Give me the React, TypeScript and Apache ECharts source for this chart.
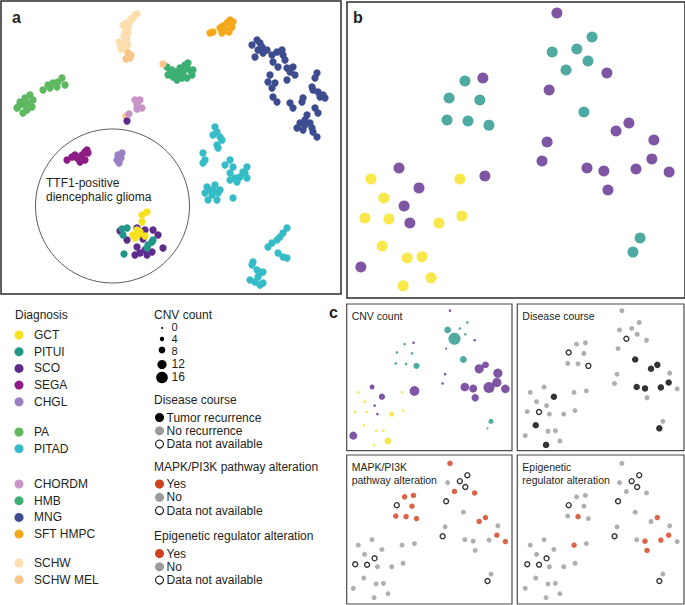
import React, { useEffect, useRef } from "react";
import * as echarts from "echarts";

const FONT = '"Liberation Sans", Arial, Helvetica, sans-serif';
const TEXT = "#231f20";

// ---------------- Diagnoses ----------------
const diagnosisGroups: string[][] = [
  ["GCT", "PITUI", "SCO", "SEGA", "CHGL"],
  ["PA", "PITAD"],
  ["CHORDM", "HMB", "MNG", "SFT HMPC"],
  ["SCHW", "SCHW MEL"],
];
const diagnosisColors: Record<string, string> = {
  GCT: "#F6E21E",
  PITUI: "#23968A",
  SCO: "#5E2C8D",
  SEGA: "#8C1C83",
  CHGL: "#9C80C2",
  PA: "#5DB860",
  PITAD: "#35BCC6",
  CHORDM: "#C995C8",
  HMB: "#3CAF72",
  MNG: "#3D4C8F",
  "SFT HMPC": "#F5A81C",
  SCHW: "#FDDEAE",
  "SCHW MEL": "#F8C68A",
};

// ---------------- Panel a: t-SNE of the reference cohort ----------------
const tsneSCHW = [[-3.6,13.2],[-3.4,13.3],[-3.8,12.9],[-4.0,12.8],[-4.1,12.5],[-4.4,12.4],[-4.8,12.2],[-4.3,11.9],[-4.6,11.5],[-4.3,11.4],[-4.7,11.1],[-4.4,10.8],[-5.2,10.5],[-5.1,10.3],[-4.6,10.4],[-4.3,10.2],[-5.0,9.8],[-4.5,9.7]];
const tsneSCHWMEL = [[-4.3,9.4],[-4.0,9.2],[-4.5,8.8],[-4.1,8.9],[-0.8,8.3],[-4.5,3.1]];
const tsneSFT = [[5.9,12.7],[6.2,12.5],[5.6,12.4],[5.2,12.1],[6.1,12.0],[4.9,11.9],[5.8,11.5],[5.1,11.4],[4.2,11.5],[3.9,11.4],[5.5,11.7]];
const tsneHMB = [[-0.4,8.0],[0.1,7.7],[-0.3,7.2],[0.2,7.0],[0.9,7.9],[1.2,7.4],[1.7,8.4],[1.9,7.7],[2.2,7.7],[1.6,6.9],[0.6,6.7],[1.1,6.9],[2.1,7.2],[0.5,7.5],[1.5,7.9],[-0.1,7.4],[1.4,8.2],[0.8,7.2]];
const tsnePA = [[-12.8,5.7],[-12.3,6.2],[-11.8,6.4],[-11.3,6.5],[-10.9,6.9],[-10.6,6.2],[-11.4,6.0],[-12.1,5.9],[-15.4,3.9],[-15.1,4.5],[-14.6,4.9],[-14.1,5.2],[-13.8,4.7],[-13.9,4.0],[-14.4,3.7],[-14.8,3.4],[-15.3,4.0],[-14.3,4.4],[-14.7,4.2]];
const tsneCHORDM = [[-3.6,4.7],[-3.1,4.7],[-3.4,4.2],[-2.9,3.9],[-3.4,3.8],[-4.2,3.3]];
const tsneMNG = [[8.1,10.2],[8.6,10.7],[8.9,10.4],[8.7,9.7],[8.4,9.0],[9.2,9.4],[9.6,9.7],[10.1,9.2],[10.6,9.5],[11.1,9.7],[11.2,9.2],[10.2,8.5],[10.7,8.0],[11.4,8.7],[11.6,7.9],[12.2,8.0],[12.4,7.2],[11.6,6.7],[9.9,7.2],[9.7,6.5],[10.1,5.9],[10.2,5.0],[10.6,4.5],[10.4,6.4],[11.9,4.4],[12.2,3.9],[13.1,4.5],[13.2,4.9],[14.2,5.7],[14.6,7.4],[14.4,6.9],[14.1,6.0],[15.2,5.2],[15.4,4.9],[14.9,5.0],[14.4,3.9],[14.7,3.4],[13.6,3.2],[12.9,2.4],[12.6,1.9],[13.2,1.7],[14.1,1.9],[14.6,1.0],[13.9,2.4],[13.4,2.7],[14.2,1.5],[9.1,10.0],[11.9,7.5],[14.7,5.5],[13.4,2.2]];
const tsnePITAD = [[4.4,2.0],[4.6,1.5],[4.2,1.2],[4.9,1.0],[5.1,0.7],[4.6,0.2],[4.7,-0.1],[3.2,-0.6],[3.4,-1.3],[3.2,-1.6],[5.9,-1.3],[6.2,-2.0],[5.9,-2.6],[7.6,-2.0],[7.4,-2.6],[6.9,-3.0],[6.4,-3.1],[5.9,-3.3],[7.6,-3.1],[6.6,-3.5],[3.6,-4.0],[4.2,-4.3],[3.4,-4.6],[4.1,-4.8],[4.7,-4.6],[3.7,-5.3],[4.6,-5.3],[4.9,-4.3],[6.2,-5.1],[7.2,-2.5],[3.9,-4.3],[4.4,-3.8],[5.4,-1.8],[11.6,-8.1],[11.2,-8.6],[10.9,-9.0],[10.6,-9.3],[10.1,-9.6],[9.7,-10.0],[10.7,-10.6],[11.2,-11.0],[11.6,-11.1],[8.2,-11.5],[8.1,-11.8],[8.6,-12.3],[8.9,-12.6],[9.2,-12.5],[7.9,-13.3],[8.4,-13.5],[8.9,-13.8],[9.2,-13.6],[8.7,-13.0]];
const tsneSEGA = [[-10.4,-1.3],[-9.9,-1.0],[-9.4,-1.1],[-8.9,-0.8],[-8.6,-0.5],[-8.3,-0.6],[-9.1,-1.5],[-8.6,-1.3],[-8.4,-0.3],[-9.6,-0.8]];
const tsneCHGL = [[-5.4,-1.3],[-5.3,-0.8],[-4.9,-0.6],[-5.0,-1.1],[-5.2,-1.6]];
const tsnePITUI = [[-4.9,-8.2],[-4.4,-8.1],[-4.8,-8.8],[-1.9,-9.5],[-2.3,-9.8],[-1.8,-9.3],[-2.4,-10.1],[-4.7,-10.7]];
const tsneSCO = [[-5.1,-8.4],[-3.4,-8.1],[-2.6,-8.3],[-1.8,-8.3],[-1.3,-8.8],[-2.8,-9.2],[-4.4,-9.3],[-3.4,-10.0],[-3.6,-10.8],[-3.1,-10.6],[-2.6,-10.3],[-2.4,-10.8],[-1.9,-10.5],[-0.8,-10.1],[-4.4,2.6]];
const tsneGCT = [[-2.4,-6.5],[-2.9,-6.8],[-2.9,-7.5],[-3.4,-8.3],[-3.1,-8.5],[-3.8,-8.8],[-3.6,-9.1],[-3.3,-8.8],[-2.6,-8.9]];

const ttf1CircleCenter = [-5.85, -5.9];
const ttf1Label = ["TTF1-positive", "diencephalic glioma"];

// ---------------- Panels b & c: study cohort ----------------
const sampleDiagnosis = ["SCO","PITUI","PITUI","PITUI","PITUI","PITUI","SCO","PITUI","SCO","SCO","PITUI","PITUI","PITUI","PITUI","PITUI","PITUI","SCO","SCO","SCO","SCO","SCO","SCO","SCO","SCO","SCO","SCO","SCO","SCO","GCT","GCT","SCO","SCO","GCT","SCO","GCT","GCT","SCO","GCT","GCT","GCT","GCT","GCT","GCT","SCO","GCT","PITUI","PITUI"];
const umap1 = [62.1,72.5,60.7,68.0,71.3,64.8,76.9,34.9,40.2,59.8,30.2,39.3,70.1,29.6,35.8,42.0,83.4,79.6,59.2,90.8,57.7,71.0,76.0,85.5,90.2,95.3,77.2,15.4,7.1,33.4,40.8,21.3,10.9,16.9,5.3,12.4,18.6,27.2,34.0,10.4,17.8,22.2,24.9,4.1,16.6,86.7,84.6];
const umap2 = [96.3,88.2,83.1,84.1,80.1,77.0,76.0,73.3,74.3,70.3,67.6,66.9,62.8,60.1,59.8,58.4,59.1,56.4,52.7,53.4,46.3,43.9,42.9,43.6,47.0,42.6,36.5,43.9,40.2,40.2,41.2,37.2,33.8,31.1,27.0,26.7,25.3,25.3,27.7,17.6,13.5,13.9,6.8,10.5,4.1,20.3,15.5];
const cnvCount = [1,1,8,1,1,17,1,1,1,0,1,1,8,1,1,7,8,12,1,12,1,11,10,15,12,11,9,5,1,1,13,7,1,1,1,1,1,5,1,1,1,1,8,10,1,5,0];
const diseaseCourse = ["N","N","N","N","N","NA","N","N","N","N","NA","N","R","N","N","NA","R","R","N","N","N","R","R","R","R","N","N","N","N","N","N","R","N","N","N","NA","N","N","N","R","N","N","N","N","R","N","R"];
const mapkAlteration = ["Y","NA","N","NA","NA","Y","Y","Y","Y","NA","NA","Y","N","Y","Y","Y","Y","Y","N","N","NA","N","N","N","Y","Y","N","N","N","N","N","N","N","NA","NA","NA","N","N","N","N","N","N","N","N","N","N","NA"];
const epigeneticAlteration = ["N","NA","N","NA","NA","N","N","N","N","NA","NA","N","N","N","Y","N","Y","N","N","N","NA","N","Y","Y","Y","N","Y","N","N","Y","N","N","N","NA","NA","NA","N","N","N","N","N","N","N","N","N","N","NA"];

const cnvLegendValues = [0, 4, 8, 12, 16];
const courseCodes = ["R", "N", "NA"];
const courseLabels = ["Tumor recurrence", "No recurrence", "Data not available"];
const alterationCodes = ["Y", "N", "NA"];
const alterationLabels = ["Yes", "No", "Data not available"];
const subpanelTitles = [["CNV count"], ["Disease course"], ["MAPK/PI3K", "pathway alteration"], ["Epigenetic", "regulator alteration"]];

// ---------------- styles ----------------
const RED = "#D23F1C";
const GRAY = "#9B9B9B";
const BLACK = "#000000";
const cnvSize = (v: number) => 2 + 0.6 * v;

const statusStyle: Record<string, any> = {
  R: { itemStyle: { color: BLACK }, symbolSize: 6.5 },
  Y: { itemStyle: { color: RED }, symbolSize: 5.5 },
  N: { itemStyle: { color: GRAY }, symbolSize: 5 },
  NA: { itemStyle: { color: "#ffffff", borderColor: BLACK, borderWidth: 1.4 }, symbolSize: 5 },
};

function buildOption() {
  const grids: any[] = [
    { left: 1, top: 1, width: 340, height: 293, show: true, borderColor: "#2b2b2b", borderWidth: 1.5, backgroundColor: "transparent" },
    { left: 347, top: 2, width: 338, height: 296, show: true, borderColor: "#2b2b2b", borderWidth: 1.5, backgroundColor: "transparent" },
    { left: 346.4, top: 305.3, width: 166.8, height: 145.6 },
    { left: 518.4, top: 305.3, width: 166.8, height: 145.6 },
    { left: 346.4, top: 458, width: 166.8, height: 145.6 },
    { left: 518.4, top: 458, width: 166.8, height: 145.6 },
  ];
  const xAxes: any[] = grids.map((_, i) => ({
    gridIndex: i, type: "value", show: false,
    min: i === 0 ? -17 : 0, max: i === 0 ? 17 : 100,
  }));
  const yAxes: any[] = grids.map((_, i) => ({
    gridIndex: i, type: "value", show: false,
    min: i === 0 ? -14.7 : 0, max: i === 0 ? 14.6 : 100,
  }));

  const series: any[] = [];

  // panel a
  const tsneByDiagnosis: [string, number[][]][] = [
    ["SCHW", tsneSCHW], ["SFT HMPC", tsneSFT], ["HMB", tsneHMB], ["SCHW MEL", tsneSCHWMEL],
    ["PA", tsnePA], ["MNG", tsneMNG], ["PITAD", tsnePITAD], ["SEGA", tsneSEGA],
    ["CHGL", tsneCHGL], ["SCO", tsneSCO], ["CHORDM", tsneCHORDM], ["PITUI", tsnePITUI], ["GCT", tsneGCT],
  ];
  tsneByDiagnosis.forEach(([d, pts]) => {
    series.push({
      type: "scatter", name: d, xAxisIndex: 0, yAxisIndex: 0, data: pts,
      symbolSize: 7.3, itemStyle: { color: diagnosisColors[d], opacity: 1 }, silent: true, clip: false,
    });
  });
  series.push({
    type: "scatter", xAxisIndex: 0, yAxisIndex: 0, data: [ttf1CircleCenter], symbolSize: 154,
    itemStyle: { color: "rgba(0,0,0,0)", borderColor: "#333", borderWidth: 1 }, silent: true, z: 1, clip: false,
  });

  // panel b
  ["GCT", "PITUI", "SCO"].forEach((d) => {
    const data = sampleDiagnosis.map((s, i) => (s === d ? [umap1[i], umap2[i]] : null)).filter(Boolean);
    series.push({
      type: "scatter", name: d, xAxisIndex: 1, yAxisIndex: 1, data,
      symbolSize: 11, itemStyle: { color: diagnosisColors[d] }, silent: true,
    });
  });

  // panel c: CNV count
  ["GCT", "PITUI", "SCO"].forEach((d) => {
    const data = sampleDiagnosis.map((s, i) => (s === d ? [umap1[i], umap2[i], cnvCount[i]] : null)).filter(Boolean);
    series.push({
      type: "scatter", xAxisIndex: 2, yAxisIndex: 2, data,
      symbolSize: (v: number[]) => cnvSize(v[2]), itemStyle: { color: diagnosisColors[d] }, silent: true,
    });
  });

  const statusSeries = (gi: number, values: string[], codes: string[]) => {
    codes.slice().reverse().forEach((c) => {
      const data = values.map((s, i) => (s === c ? [umap1[i], umap2[i]] : null)).filter(Boolean);
      series.push({
        type: "scatter", xAxisIndex: gi, yAxisIndex: gi, data, silent: true,
        symbolSize: statusStyle[c].symbolSize, itemStyle: statusStyle[c].itemStyle,
      });
    });
  };
  statusSeries(3, diseaseCourse, courseCodes);
  statusSeries(4, mapkAlteration, alterationCodes);
  statusSeries(5, epigeneticAlteration, alterationCodes);

  // ---------------- graphics ----------------
  const els: any[] = [];
  const text = (x: number, y: number, t: string, size = 12, weight: any = "normal", lineHeight?: number) => ({
    type: "text", silent: true,
    style: {
      x, y, text: t, fill: TEXT, fontSize: size, fontFamily: FONT, fontWeight: weight,
      textAlign: "left", textVerticalAlign: "middle", align: "left", verticalAlign: "middle",
      ...(lineHeight ? { lineHeight } : {}),
    },
  });
  const dot = (cx: number, cy: number, r: number, fill: string, stroke?: string, lw = 1.2) => ({
    type: "circle", silent: true, shape: { cx, cy, r },
    style: stroke ? { fill: "#fff", stroke, lineWidth: lw } : { fill },
  });

  els.push(text(12, 17, "a", 16, "bold"));
  els.push(text(353, 17, "b", 16, "bold"));
  els.push(text(329, 312, "c", 16, "bold"));

  ttf1Label.forEach((t, i) => els.push(text(46, 183 + i * 14, t, 12)));

  // subpanel boxes
  const boxes = [
    [346.7, 304, 165.3, 146.7],
    [517.3, 304, 166.7, 146.7],
    [346.7, 455, 165.3, 149],
    [517.3, 455, 166.7, 149],
  ];
  boxes.forEach(([x, y, w, h], i) => {
    els.push({ type: "rect", silent: true, shape: { x, y, width: w, height: h }, style: { fill: "none", stroke: "#4a4a4a", lineWidth: 1.2 } });
    subpanelTitles[i].forEach((t, j) => els.push(text(x + 5, y + 11.5 + j * 13.5, t, 10.5, "normal", 12)));
  });

  // diagnosis legend
  els.push(text(15, 315, "Diagnosis", 12));
  const groupStart = [335, 432, 484, 563];
  diagnosisGroups.forEach((g, gi) => {
    g.forEach((d, k) => {
      const y = groupStart[gi] + k * 16.7;
      els.push(dot(19, y, 4.5, diagnosisColors[d]));
      els.push(text(34, y, d, 12));
    });
  });

  // CNV legend
  els.push(text(154, 315, "CNV count", 12));
  const cnvDotY = [328, 339, 350, 364.5, 377.5];
  const cnvTextY = [326.5, 338.5, 350.5, 364, 377];
  cnvLegendValues.forEach((v, i) => {
    els.push(dot(162, cnvDotY[i], cnvSize(v) / 2, BLACK));
    els.push(text(171.5, cnvTextY[i], String(v), i < 3 ? 11 : 12, "normal", 11));
  });

  const statusLegend = (title: string, ty: number, codes: string[], labels: string[]) => {
    els.push(text(154, ty, title, 12));
    codes.forEach((c, i) => {
      const y = ty + 17.5 + i * 13.3;
      if (c === "NA") els.push(dot(159.5, y, 4, "#fff", "#111", 1.1));
      else els.push(dot(159.5, y, 4.5, c === "R" ? BLACK : c === "Y" ? RED : GRAY));
      els.push(text(166.5, y, labels[i], 12, "normal", 13));
    });
  };
  statusLegend("Disease course", 400, courseCodes, courseLabels);
  statusLegend("MAPK/PI3K pathway alteration", 466.5, alterationCodes, alterationLabels);
  statusLegend("Epigenetic regulator alteration", 536, alterationCodes, alterationLabels);

  return {
    animation: false,
    backgroundColor: "#ffffff",
    textStyle: { fontFamily: FONT },
    grid: grids,
    xAxis: xAxes,
    yAxis: yAxes,
    series,
    graphic: { elements: els },
  };
}

export default function App() {
  const ref = useRef<HTMLDivElement>(null);
  useEffect(() => {
    document.body.style.margin = "0";
    if (!ref.current) return;
    const chart = echarts.init(ref.current, undefined, { renderer: "svg" });
    chart.setOption(buildOption() as any);
    return () => chart.dispose();
  }, []);
  return <div ref={ref} style={{ width: 685, height: 605 }} />;
}
